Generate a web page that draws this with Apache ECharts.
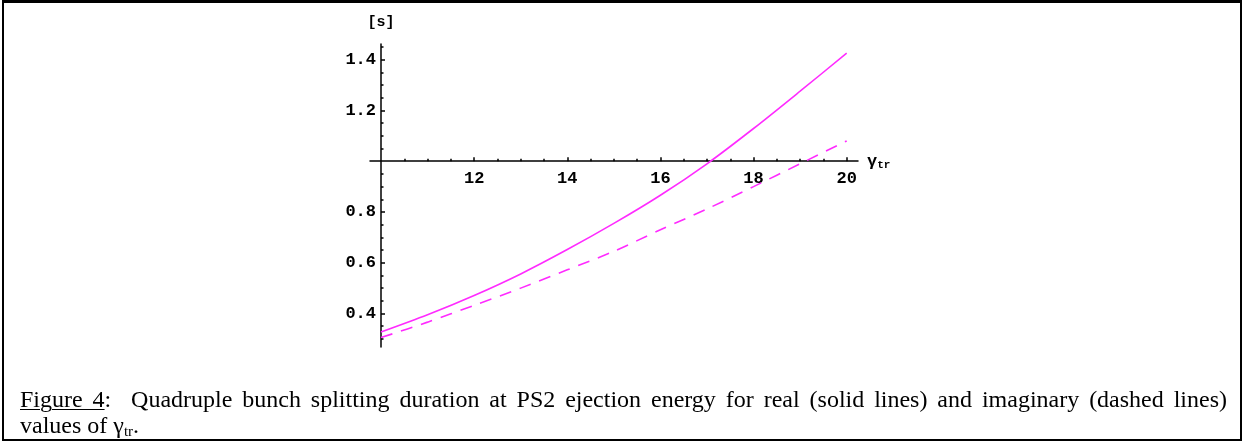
<!DOCTYPE html>
<html>
<head>
<meta charset="utf-8">
<script src="https://cdn.jsdelivr.net/npm/echarts@6/dist/echarts.min.js"></script>
<style>
  html, body { margin: 0; padding: 0; background: #fff; }
  #wrap { position: relative; width: 1244px; height: 442px; overflow: hidden; background: #fff; }
  #chart { position: absolute; left: 0; top: 0; width: 1244px; height: 442px; }
  #frame {
    position: absolute; left: 2px; top: 0; width: 1236px; height: 436px;
    border: 2px solid #000; border-top-width: 3px; pointer-events: none;
  }
  #cap {
    position: absolute; left: 20px; top: 386px; width: 1207px;
    font-family: "Liberation Serif", "Times New Roman", serif; font-size: 24px;
    line-height: 26px; color: #000;
  }
  #cap .l1 { text-align: justify; text-align-last: justify; }
  #cap u { text-underline-offset: 2px; text-decoration-thickness: 1px; }
  #cap sub { font-size: 15px; vertical-align: -3px; line-height: 0; }
</style>
</head>
<body>
<div id="wrap">
  <div id="chart"></div>
  <div id="frame"></div>
  <div id="cap">
    <div class="l1"><u>Figure 4</u>:&nbsp; Quadruple bunch splitting duration at PS2 ejection energy for real (solid lines) and imaginary (dashed lines)</div>
    <div class="l2">values of γ<sub>tr</sub>.</div>
  </div>
</div>
<script>
// transition gamma values and splitting durations [s]
const gammaTr = [10, 11, 12, 13, 14, 15, 16, 17, 18, 19, 20];
const realDuration = [0.327, 0.395, 0.471, 0.556, 0.652, 0.755, 0.866, 0.990, 1.129, 1.276, 1.426];
const imagDuration = [0.305, 0.366, 0.432, 0.500, 0.572, 0.645, 0.730, 0.812, 0.900, 0.990, 1.080];

// tick positions
const xMajorTicks = [12, 14, 16, 18, 20];
const xMinorTicks = [10.5, 11, 11.5, 12.5, 13, 13.5, 14.5, 15, 15.5, 16.5, 17, 17.5, 18.5, 19, 19.5];
const yMajorTicks = [0.4, 0.6, 0.8, 1.2, 1.4];
const yMinorTicks = [0.3, 0.35, 0.45, 0.5, 0.55, 0.65, 0.7, 0.75, 0.85, 0.9, 0.95,
                     1.05, 1.1, 1.15, 1.25, 1.3, 1.35, 1.45];

// axis extents (the x axis line overshoots the plotted range slightly)
const X_MIN = 9.764, X_MAX = 20.243;
const Y_MIN = 0.268, Y_MAX = 1.462;
const Y_CROSS = 1.0;

const MONO = '"Liberation Mono", "Courier New", monospace';
const LINE_COLOR = '#ff2bff';

const chart = echarts.init(document.getElementById('chart'), null, { renderer: 'canvas' });

const plotTop = 44, plotHeight = 303;
// pixel row where y = Y_CROSS, so the horizontal axis sits on that value
const crossPx = plotTop + (Y_MAX - Y_CROSS) / (Y_MAX - Y_MIN) * plotHeight;

const yCommon = {
  type: 'value', gridIndex: 0, min: Y_MIN, max: Y_MAX, position: 'left', offset: -11,
  splitLine: { show: false }
};
const xCommon = {
  type: 'value', min: X_MIN, max: X_MAX, splitLine: { show: false }
};

chart.setOption({
  animation: false,
  backgroundColor: '#fff',
  grid: [
    { left: 370, top: plotTop, width: 488, height: plotHeight },
    { left: 370, top: crossPx - 60, width: 488, height: 60 }
  ],
  xAxis: [
    Object.assign({}, xCommon, { gridIndex: 0, show: false }),
    Object.assign({}, xCommon, {
      gridIndex: 1, position: 'bottom',
      name: '{g|γ}{s|tr}', nameLocation: 'end', nameGap: 9,
      nameTextStyle: {
        rich: {
          g: { fontFamily: MONO, fontWeight: 'bold', fontSize: 17, color: '#000' },
          s: { fontFamily: MONO, fontWeight: 'bold', fontSize: 11, color: '#000', padding: [7, 0, 0, 0] }
        }
      },
      axisLine: { show: true, onZero: false, lineStyle: { color: '#000', width: 1.5 } },
      axisTick: { show: true, inside: true, length: 4, customValues: xMajorTicks,
                  lineStyle: { color: '#000', width: 1.5 } },
      axisLabel: { show: true, customValues: xMajorTicks, margin: 9,
                   fontFamily: MONO, fontWeight: 'bold', fontSize: 17, color: '#000' }
    }),
    Object.assign({}, xCommon, {
      gridIndex: 1, position: 'bottom',
      axisLine: { show: false, onZero: false },
      axisTick: { show: true, inside: true, length: 2.5, customValues: xMinorTicks,
                  lineStyle: { color: '#000', width: 1.5 } },
      axisLabel: { show: false }
    })
  ],
  yAxis: [
    Object.assign({}, yCommon, {
      name: '[s]', nameLocation: 'end', nameGap: 14,
      nameTextStyle: { fontFamily: MONO, fontWeight: 'bold', fontSize: 15, color: '#000', align: 'center' },
      axisLine: { show: true, onZero: false, lineStyle: { color: '#000', width: 1.5 } },
      axisTick: { show: true, inside: true, length: 4, customValues: yMajorTicks,
                  lineStyle: { color: '#000', width: 1.5 } },
      axisLabel: { show: true, customValues: yMajorTicks, margin: 5,
                   formatter: v => v.toFixed(1),
                   fontFamily: MONO, fontWeight: 'bold', fontSize: 17, color: '#000' }
    }),
    Object.assign({}, yCommon, {
      axisLine: { show: false, onZero: false },
      axisTick: { show: true, inside: true, length: 2.5, customValues: yMinorTicks,
                  lineStyle: { color: '#000', width: 1.5 } },
      axisLabel: { show: false }
    }),
    { type: 'value', gridIndex: 1, min: 0, max: 1, show: false }
  ],
  series: [
    {
      name: 'real', type: 'line', xAxisIndex: 0, yAxisIndex: 0,
      data: gammaTr.map((g, i) => [g, realDuration[i]]),
      showSymbol: false, smooth: 0.3,
      lineStyle: { color: LINE_COLOR, width: 1.6 }
    },
    {
      name: 'imaginary', type: 'line', xAxisIndex: 0, yAxisIndex: 0,
      data: gammaTr.map((g, i) => [g, imagDuration[i]]),
      showSymbol: false, smooth: 0.3,
      lineStyle: { color: LINE_COLOR, width: 1.6, type: [12, 9] }
    }
  ]
});
</script>
</body>
</html>
